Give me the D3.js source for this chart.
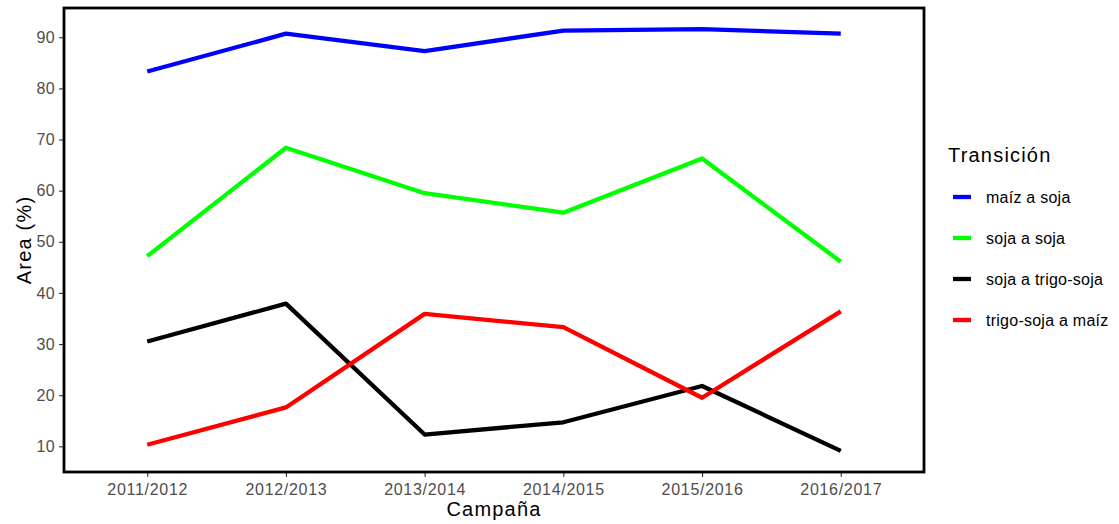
<!DOCTYPE html>
<html>
<head>
<meta charset="utf-8">
<script src="https://cdn.jsdelivr.net/npm/d3@7"></script>
<style>
  body { margin: 0; background: #fff; }
  svg { display: block; font-family: "Liberation Sans", Arial, sans-serif; }
</style>
</head>
<body>
<svg id="chart" width="1119" height="524"></svg>
<script>
const campaigns = ["2011/2012", "2012/2013", "2013/2014", "2014/2015", "2015/2016", "2016/2017"];
const seriesNames = ["maíz a soja", "soja a soja", "soja a trigo-soja", "trigo-soja a maíz"];
const seriesColors = ["#0000ff", "#00ff00", "#000000", "#ff0000"];
const maizASoja = [83.3, 90.7, 87.3, 91.3, 91.6, 90.7];
const sojaASoja = [47.2, 68.4, 59.5, 55.7, 66.3, 46.1];
const sojaATrigoSoja = [30.5, 37.9, 12.3, 14.7, 21.8, 9.1];
const trigoSojaAMaiz = [10.3, 17.6, 35.9, 33.3, 19.5, 36.4];
const yTicks = [10, 20, 30, 40, 50, 60, 70, 80, 90];
const legendTitle = "Transición";
const xTitle = "Campaña";
const yTitle = "Area (%)";

const values = [maizASoja, sojaASoja, sojaATrigoSoja, trigoSojaAMaiz];
const series = seriesNames.map((name, i) => ({
  name, color: seriesColors[i],
  points: campaigns.map((c, j) => ({ c, v: values[i][j] }))
}));

const svg = d3.select("#chart");
const panel = { left: 64, right: 924, top: 8, bottom: 472 };

const x = d3.scalePoint().domain(campaigns)
  .range([panel.left, panel.right]).padding(0.6);
const allVals = values.flat();
const lo = d3.min(allVals), hi = d3.max(allVals), span = hi - lo;
const y = d3.scaleLinear().domain([lo - span * 0.05, hi + span * 0.05])
  .range([panel.bottom, panel.top]);

// axes
const xAxis = svg.append("g").attr("transform", `translate(0,${panel.bottom})`)
  .call(d3.axisBottom(x).tickSize(5).tickPadding(4));
const yAxis = svg.append("g").attr("transform", `translate(${panel.left},0)`)
  .call(d3.axisLeft(y).tickValues(yTicks).tickSize(5).tickPadding(4));
[xAxis, yAxis].forEach(a => {
  a.select(".domain").remove();
  a.selectAll(".tick line").attr("stroke", "#333").attr("stroke-width", 1.1);
  a.selectAll(".tick text").attr("fill", "#4d4d4d").style("font-size", "16px")
    .style("font-family", "'Liberation Sans', Arial, sans-serif");
});
xAxis.selectAll(".tick text").attr("dy", "0.85em").style("letter-spacing", "0.7px");
yAxis.selectAll(".tick text").style("letter-spacing", "0.3px");

// lines
const line = d3.line().x(d => x(d.c)).y(d => y(d.v));
svg.append("g").selectAll("path").data(series).join("path")
  .attr("d", d => line(d.points))
  .attr("fill", "none")
  .attr("stroke", d => d.color)
  .attr("stroke-width", 4.3)
  .attr("stroke-linejoin", "round")
  .attr("stroke-linecap", "butt");

// panel border
svg.append("rect")
  .attr("x", panel.left).attr("y", panel.top)
  .attr("width", panel.right - panel.left).attr("height", panel.bottom - panel.top)
  .attr("fill", "none").attr("stroke", "#000").attr("stroke-width", 2.8);

// axis titles
svg.append("text").attr("x", (panel.left + panel.right) / 2).attr("y", 516)
  .attr("text-anchor", "middle").style("font-size", "20px").style("letter-spacing", "1.2px")
  .attr("fill", "#000").text(xTitle);
svg.append("text")
  .attr("transform", `translate(31,${(panel.top + panel.bottom) / 2}) rotate(-90)`)
  .attr("text-anchor", "middle").style("font-size", "20px").style("letter-spacing", "1.2px")
  .attr("fill", "#000").text(yTitle);

// legend
const lg = svg.append("g");
lg.append("text").attr("x", 948).attr("y", 162).style("font-size", "20px")
  .style("letter-spacing", "1.2px").attr("fill", "#000").text(legendTitle);
const items = lg.selectAll("g.item").data(series).join("g")
  .attr("class", "item")
  .attr("transform", (d, i) => `translate(0,${197 + i * 41})`);
items.append("line").attr("x1", 953).attr("x2", 971).attr("y1", 0).attr("y2", 0)
  .attr("stroke", d => d.color).attr("stroke-width", 4.3);
items.append("text").attr("x", 986).attr("y", 6).style("font-size", "16px")
  .style("letter-spacing", "0.25px").attr("fill", "#000").text(d => d.name);
</script>
</body>
</html>
